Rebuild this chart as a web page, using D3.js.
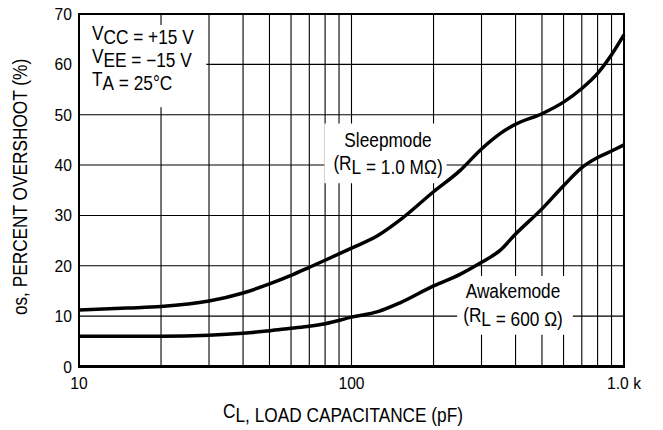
<!DOCTYPE html>
<html>
<head>
<meta charset="utf-8">
<script src="https://cdn.jsdelivr.net/npm/d3@7"></script>
<style>
  html, body { margin: 0; padding: 0; background: #fff; }
  svg { display: block; }
  text { font-family: "Liberation Sans", Arial, sans-serif; fill: #000; }
</style>
</head>
<body>
<svg id="chart" width="663" height="430"></svg>
<script>
// Load capacitance (pF) sample points
const capacitance = [10, 15, 20, 30, 40, 50, 60, 70, 80, 100, 125, 150, 200, 250, 300, 350, 400, 500, 600, 700, 800, 900, 1000];
// Percent overshoot, sleep mode (RL = 1.0 MΩ)
const sleepOvershoot = [11.2, 11.6, 11.9, 13.0, 14.6, 16.4, 18.1, 19.7, 21.1, 23.5, 26.0, 29.0, 34.7, 38.9, 43.2, 46.2, 48.1, 50.2, 52.5, 55.2, 58.2, 61.9, 65.9];
// Percent overshoot, awake mode (RL = 600 Ω)
const awakeOvershoot = [6.0, 6.0, 6.0, 6.2, 6.6, 7.1, 7.6, 8.0, 8.5, 9.8, 10.9, 12.6, 16.0, 18.3, 20.7, 23.0, 26.3, 31.3, 35.9, 39.5, 41.5, 42.8, 44.0];
// Axis ticks
const xTickValues = [10, 100, 1000];
const xTickLabels = ["10", "100", "1.0 k"];
const yTickValues = [0, 10, 20, 30, 40, 50, 60, 70];

const svg = d3.select("#chart");
const x = d3.scaleLog().domain([10, 1000]).range([79, 624]);
const y = d3.scaleLinear().domain([0, 70]).range([366.5, 14]);

const TICK_FS = 17;     // tick label size
const TICK_SQUEEZE = 0.92;
const LABEL_FS = 19.5;  // condensed label size
const SQUEEZE = 0.885;  // horizontal condensing of label text

// condensed text placed at (px, py), optional extra rotation
function labelText(parent, px, py, anchor, rotate, fs, sq) {
  return parent.append("text")
    .attr("x", 0).attr("y", 0)
    .attr("text-anchor", anchor)
    .attr("font-size", fs || LABEL_FS)
    .attr("transform", `translate(${px},${py})${rotate ? ` rotate(${rotate})` : ""} scale(${sq || SQUEEZE},1)`);
}
function fillParts(t, parts) {
  parts.forEach(p => {
    if (p.sub) {
      t.append("tspan").attr("dy", 4).text(p.t);
      t.append("tspan").attr("dy", -4).text("");
    } else {
      t.append("tspan").text(p.t);
    }
  });
}

// grid
const gridG = svg.append("g");
const vGrid = x.ticks().filter(v => v > 10 && v < 1000);
gridG.selectAll("line.v").data(vGrid).join("line")
  .attr("x1", d => x(d)).attr("x2", d => x(d))
  .attr("y1", y(70)).attr("y2", y(0))
  .attr("stroke", "#000").attr("stroke-width", 1.1);
gridG.selectAll("line.h").data(yTickValues.filter(v => v > 0 && v < 70)).join("line")
  .attr("x1", x(10)).attr("x2", x(1000))
  .attr("y1", d => y(d)).attr("y2", d => y(d))
  .attr("stroke", "#000").attr("stroke-width", 1.1);

// annotation blocks with a white backing that interrupts the grid
// pad = [left, top, right, bottom]
function textBlock(lines, anchor, cx, y0, lineGap, pad) {
  const g = svg.append("g");
  const bg = g.append("rect").attr("fill", "#fff");
  const t = g.append("g");
  lines.forEach((parts, i) => {
    fillParts(labelText(t, cx, y0 + i * lineGap, anchor), parts);
  });
  const bb = t.node().getBBox();
  bg.attr("x", bb.x - pad[0]).attr("y", bb.y - pad[1])
    .attr("width", bb.width + pad[0] + pad[2])
    .attr("height", bb.height + pad[1] + pad[3]);
  return g;
}

textBlock([
  [{t: "V"}, {t: "CC", sub: true}, {t: " = +15 V"}],
  [{t: "V"}, {t: "EE", sub: true}, {t: " = \u221215 V"}],
  [{t: "T"}, {t: "A", sub: true}, {t: " = 25\u00B0C"}]
], "start", 92, 40, 23, [14, -3, 12, 13]);

textBlock([
  [{t: "Sleepmode"}],
  [{t: "(R"}, {t: "L", sub: true}, {t: " = 1.0 M\u03A9)"}]
], "middle", 388, 146.5, 23.5, [9, 5, 4, 5]);

textBlock([
  [{t: "Awakemode"}],
  [{t: "(R"}, {t: "L", sub: true}, {t: " = 600 \u03A9)"}]
], "middle", 513, 298, 23.5, [6, 4, 10, 5]);

// frame
svg.append("rect")
  .attr("x", x(10)).attr("y", y(70))
  .attr("width", x(1000) - x(10)).attr("height", y(0) - y(70))
  .attr("fill", "none").attr("stroke", "#000").attr("stroke-width", 2);
svg.append("line")
  .attr("x1", x(10) - 1).attr("x2", x(1000) + 1)
  .attr("y1", y(0)).attr("y2", y(0))
  .attr("stroke", "#000").attr("stroke-width", 3);

// curves
const line = d3.line().x(d => x(d[0])).y(d => y(d[1])).curve(d3.curveMonotoneX);
[sleepOvershoot, awakeOvershoot].forEach(series => {
  svg.append("path")
    .datum(capacitance.map((c, i) => [c, series[i]]))
    .attr("d", line)
    .attr("fill", "none").attr("stroke", "#000")
    .attr("stroke-width", 3.5).attr("stroke-linejoin", "round");
});

// y tick labels
yTickValues.forEach(v => {
  labelText(svg, 72, y(v) + 6, "end", 0, TICK_FS, TICK_SQUEEZE).text(v);
});

// x tick labels
xTickValues.forEach((v, i) => {
  labelText(svg, x(v), 389, "middle", 0, TICK_FS, TICK_SQUEEZE).text(xTickLabels[i]);
});

// axis titles
fillParts(labelText(svg, 343, 418, "middle"),
  [{t: "C"}, {t: "L", sub: true}, {t: ", LOAD CAPACITANCE (pF)"}]);

fillParts(labelText(svg, 27, 187, "middle", -90),
  [{t: "os, PERCENT OVERSHOOT (%)"}]);
</script>
</body>
</html>
